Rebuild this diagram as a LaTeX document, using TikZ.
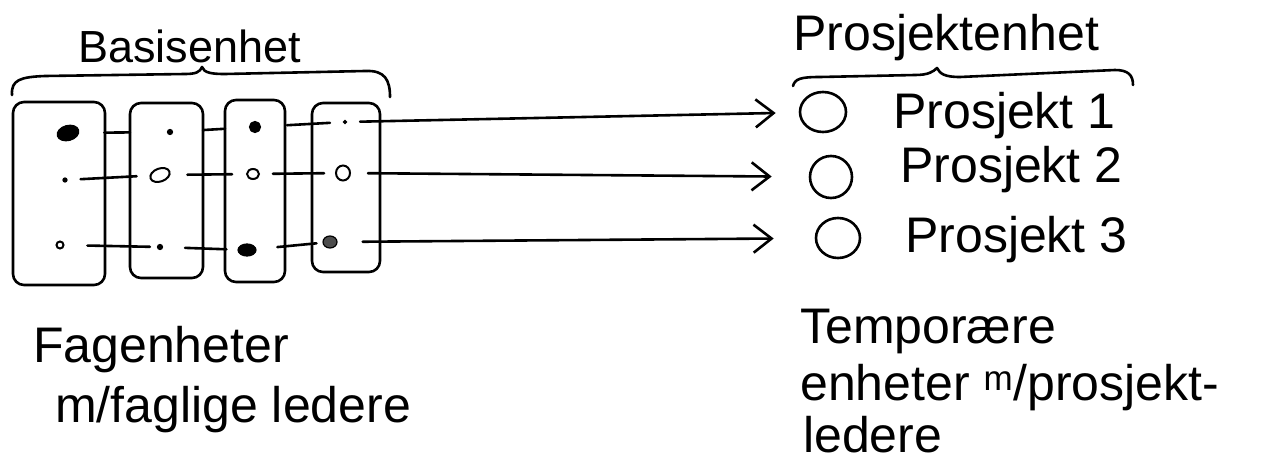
\documentclass[tikz,border=0pt]{standalone}
\usepackage{fontspec}
\setmainfont{Liberation Sans}
\usetikzlibrary{arrows.meta,shapes.geometric}
\begin{document}
\begin{tikzpicture}[x=1pt,y=-1pt,
  ink/.style={line width=2.6pt, line cap=round, line join=round},
  unitbox/.style={draw, rounded corners=11pt, line width=2.6pt, inner sep=0pt},
  fdot/.style={ellipse, draw, fill=black, line width=1.2pt, inner sep=0pt},
  odot/.style={ellipse, draw, line width=2pt, inner sep=0pt},
  pcirc/.style={ellipse, draw, line width=2.6pt, inner sep=0pt},
  link/.style={ink},
  flow/.style={ink, -{Straight Barb[length=18pt,width=28pt,line width=2.6pt]}},
  txt/.style={font=\fontsize{50}{60}\selectfont, inner sep=0pt, anchor=base west},
  htxt/.style={font=\fontsize{45}{52}\selectfont, inner sep=0pt, anchor=base west}
]
\useasboundingbox (0,0) rectangle (1274,463);

% unit boxes
\node[unitbox, minimum width=92pt, minimum height=183pt] (b1) at (59,193.5) {};
\node[unitbox, minimum width=73pt, minimum height=175pt] (b2) at (166.5,190.5) {};
\node[unitbox, minimum width=60pt, minimum height=182pt] (b3) at (255,191) {};
\node[unitbox, minimum width=68pt, minimum height=169pt] (b4) at (346,187.5) {};

% dots row 1
\node[fdot, minimum width=22pt, minimum height=15pt, rotate=15] (d11) at (68,133) {};
\node[fdot, minimum width=5pt, minimum height=5pt] (d12) at (170,132) {};
\node[fdot, minimum width=11pt, minimum height=11pt] (d13) at (255,127) {};
\node[fdot, minimum width=3pt, minimum height=3pt] (d14) at (345,122) {};
% dots row 2
\node[fdot, minimum width=4pt, minimum height=4pt] (d21) at (65,180) {};
\node[odot, minimum width=20pt, minimum height=13pt, rotate=20] (d22) at (160,175) {};
\node[odot, minimum width=12pt, minimum height=10pt] (d23) at (253,174) {};
\node[odot, minimum width=14pt, minimum height=15pt] (d24) at (343,173) {};
% dots row 3
\node[odot, minimum width=7pt, minimum height=7pt] (d31) at (60,245) {};
\node[fdot, minimum width=5pt, minimum height=5pt] (d32) at (160,247) {};
\node[fdot, minimum width=18pt, minimum height=12pt] (d33) at (247,250) {};
\node[fdot, minimum width=14pt, minimum height=12pt, fill=black!70] (d34) at (330,242) {};

% project circles
\node[pcirc, minimum width=46pt, minimum height=40pt] (c1) at (823,112) {};
\node[pcirc, minimum width=42pt, minimum height=42pt] (c2) at (831,177) {};
\node[pcirc, minimum width=44pt, minimum height=40pt] (c3) at (838,238) {};

% row links
\draw[link, shorten <=25pt, shorten >=37pt] (d11) -- (d12);
\draw[link, shorten <=30pt, shorten >=24pt] (d12) -- (d13);
\draw[link, shorten <=26pt, shorten >=13pt] (d13) -- (d14);
\draw[link, shorten <=13pt, shorten >=13pt] (d21) -- (d22);
\draw[link, shorten <=17pt, shorten >=14pt] (d22) -- (d23);
\draw[link, shorten <=13pt, shorten >=11pt] (d23) -- (d24);
\draw[link, shorten <=23pt, shorten >=7pt] (d31) -- (d32);
\draw[link, shorten <=22pt, shorten >=11pt] (d32) -- (d33);
\draw[link, shorten <=21pt, shorten >=6pt] (d33) -- (d34);

% arrows to projects
\draw[flow, shorten <=13pt, shorten >=23pt] (d14) -- (c1);
\draw[flow, shorten <=17pt, shorten >=37pt] (d24) -- (c2);
\draw[flow, shorten <=25pt, shorten >=41pt] (d34) -- (c3);

% braces
\draw[ink] (12,95) .. controls (11,80) and (20,77) .. (45,76) -- (185,74)
  .. controls (196,74) and (200,72) .. (202,67)
  .. controls (204,73) and (212,74) .. (225,74) -- (365,71)
  .. controls (385,70) and (390,80) .. (390,97);
\draw[ink] (793,86) .. controls (795,79) and (800,77) .. (820,77) -- (915,75)
  .. controls (928,75) and (933,72) .. (937,68)
  .. controls (940,74) and (945,77) .. (960,77) -- (1115,70)
  .. controls (1128,70) and (1133,75) .. (1133,85);

% labels
\node[htxt] (basis) at (78,62) {Basisenhet};
\node[txt] (penhet) at (793,50) {Prosjektenhet};
\node[txt] (p1) at (893,128) {Prosjekt 1};
\node[txt] (p2) at (900,182) {Prosjekt 2};
\node[txt] (p3) at (905,252) {Prosjekt 3};
\node[txt] (fag1) at (33,362) {Fagenheter};
\node[txt] (fag2) at (55,422) {m/faglige ledere};
\node[txt] (tmp1) at (800,343) {Temporære};
\node[txt] (tmp2) at (800,400) {enheter \textsuperscript{m}/prosjekt-};
\node[txt] (tmp3) at (803,452) {ledere};
\end{tikzpicture}
\end{document}
